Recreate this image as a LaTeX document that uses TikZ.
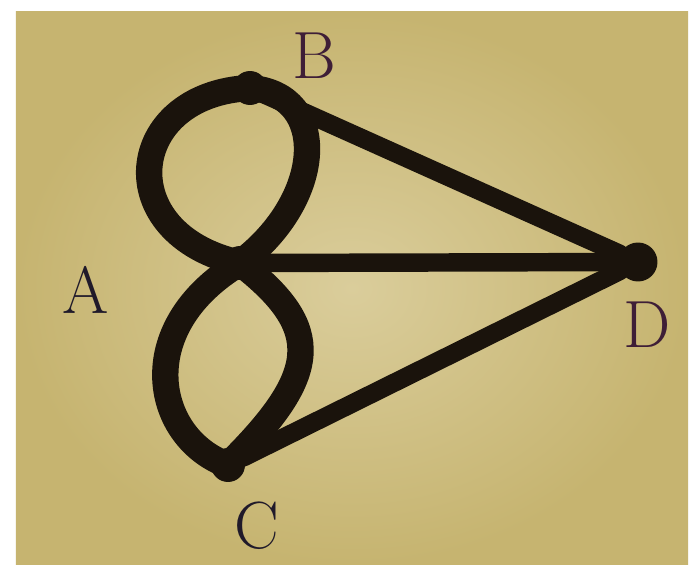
\documentclass[tikz,border=0pt]{standalone}
\usepackage{tikz}
\usetikzlibrary{positioning}

\definecolor{paper}{RGB}{198,180,112}
\definecolor{paperlight}{RGB}{218,205,155}
\definecolor{ink}{RGB}{26,19,12}
\definecolor{pen}{RGB}{32,26,42}
\definecolor{penred}{RGB}{62,30,55}

\tikzset{
  vertex/.style={circle,fill=ink,inner sep=0pt,minimum size=0.68cm},
  bridge/.style={draw=ink,line width=15pt,line cap=round},
  road/.style={draw=ink,line width=10.5pt,line cap=round},
  letter/.style={text=pen,font=\fontsize{38}{42}\selectfont}
}

\begin{document}
\begin{tikzpicture}[x=0.02cm,y=0.02cm]
\useasboundingbox (0,0) rectangle (698,569);
\fill[white] (0,0) rectangle (698,569);
\shade[inner color=paperlight,outer color=paper] (16,4) rectangle (688,557);

\node[vertex] (A) at (240,306) {};
\node[vertex] (B) at (250,481) {};
\node[vertex] (C) at (228,104) {};
\node[vertex,minimum size=0.78cm] (D) at (638,307) {};

% two bridges A-B, two bridges A-C
\draw[bridge] (B.center) .. controls (125,475) and (110,335) .. (A.center);
\draw[bridge] (B.center) .. controls (330,475) and (325,370) .. (A.center);
\draw[bridge] (A.center) .. controls (130,240) and (155,130) .. (C.center);
\draw[bridge] (A.center) .. controls (325,240) and (320,195) .. (C.center);

\draw[road] (B) -- (D);
\draw[road] (A) -- (D);
\draw[road] (C) -- (D);

\node[letter,text=penred] (labB) at (314,513) {B};
\node[letter] (labA) at (86,279) {A};
\node[letter] (labC) at (257,43) {C};
\node[letter,text=penred] (labD) at (647,244) {D};
\end{tikzpicture}
\end{document}
